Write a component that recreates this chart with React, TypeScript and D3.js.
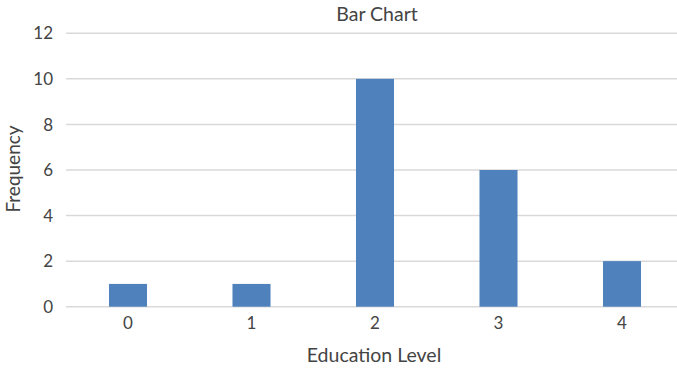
import React from "react";
import * as d3 from "d3";

// Frequency of each education level
const categories: string[] = ["0", "1", "2", "3", "4"];
const frequencies: number[] = [1, 1, 10, 6, 2];
const yTicks: number[] = [0, 2, 4, 6, 8, 10, 12];

const WIDTH = 677;
const HEIGHT = 368;
const FONT = "Lato, 'Open Sans', sans-serif";
const TEXT = "#444444";

export default function App() {
  const x = d3
    .scaleBand<string>()
    .domain(categories)
    .range([66.25, 683.75])
    .paddingInner(0.692)
    .paddingOuter(0.346);

  const y = d3.scaleLinear().domain([0, 12]).range([306.7, 33.3]);

  return (
    <svg
      width={WIDTH}
      height={HEIGHT}
      style={{ position: "absolute", left: 0, top: 0, background: "#fff" }}
      fontFamily={FONT}
    >
      {/* gridlines */}
      {yTicks.map((t) => (
        <line
          key={"g" + t}
          x1={66}
          x2={WIDTH}
          y1={y(t)}
          y2={y(t)}
          stroke="#d9d9d9"
          strokeWidth={1.5}
        />
      ))}
      {/* y tick labels */}
      {yTicks.map((t) => (
        <text
          key={"yt" + t}
          x={53}
          y={y(t)}
          dy="0.36em"
          textAnchor="end"
          fontSize={17}
          fill={TEXT}
        >
          {t}
        </text>
      ))}
      {/* bars */}
      {categories.map((c, i) => (
        <rect
          key={"b" + c}
          x={x(c)}
          y={y(frequencies[i])}
          width={x.bandwidth()}
          height={y(0) - y(frequencies[i])}
          fill="#4f81bd"
        />
      ))}
      {/* x tick labels */}
      {categories.map((c) => (
        <text
          key={"xt" + c}
          x={(x(c) ?? 0) + x.bandwidth() / 2}
          y={329}
          textAnchor="middle"
          fontSize={17}
          fill={TEXT}
        >
          {c}
        </text>
      ))}
      {/* title */}
      <text x={377} y={21} textAnchor="middle" fontSize={19.5} fill={TEXT}>
        Bar Chart
      </text>
      {/* axis titles */}
      <text x={374} y={361.5} textAnchor="middle" fontSize={19.5} fill={TEXT}>
        Education Level
      </text>
      <text
        transform="translate(19.5,169) rotate(-90)"
        textAnchor="middle"
        fontSize={19}
        fill={TEXT}
      >
        Frequency
      </text>
    </svg>
  );
}
